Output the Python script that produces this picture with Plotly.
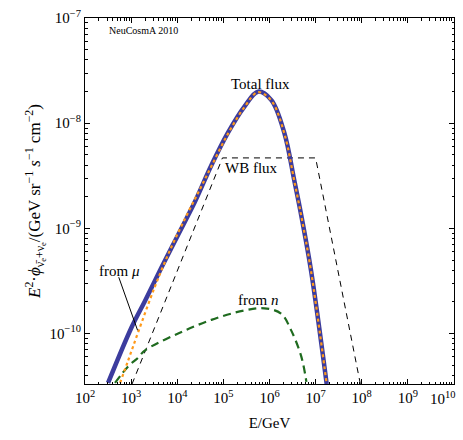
import plotly.graph_objects as go

# ---- data: log10(E/GeV), log10(E^2 phi) ----
total_logE = [2.50, 3.01, 3.30, 3.66, 4.02, 4.38, 4.74, 5.10, 5.46, 5.75, 6.04, 6.32, 6.54, 6.69, 6.90, 7.24]
total_logF = [-10.47, -9.94, -9.69, -9.37, -9.06, -8.75, -8.40, -8.09, -7.84, -7.70, -7.78, -8.09, -8.55, -8.88, -9.40, -10.48]

mu_logE = [2.76, 2.94, 3.15, 3.51, 3.87, 4.20, 4.50, 4.74, 5.10, 5.46, 5.75, 6.04, 6.32, 6.54, 6.69, 6.90, 7.24]
mu_logF = [-10.47, -10.25, -9.99, -9.56, -9.18, -8.88, -8.62, -8.41, -8.10, -7.845, -7.705, -7.785, -8.095, -8.555, -8.885, -9.405, -10.48]

n_logE = [2.65, 2.94, 3.15, 3.30, 4.02, 4.74, 5.46, 5.89, 6.25, 6.47, 6.69, 6.80]
n_logF = [-10.47, -10.31, -10.23, -10.16, -10.00, -9.87, -9.78, -9.76, -9.81, -9.97, -10.22, -10.46]

wb_logE = [3.02, 4.98, 7.00, 7.97]
wb_logF = [-10.48, -8.33, -8.33, -10.48]

xtick_exp = [2, 3, 4, 5, 6, 7, 8, 9, 10]
ytick_exp = [-10, -9, -8, -7]

def pw(v):
    return [10 ** a for a in v]

FONT = "Liberation Serif"

fig = go.Figure()
fig.add_trace(go.Scatter(x=pw(wb_logE), y=pw(wb_logF), mode="lines",
                         line=dict(color="black", width=1, dash="6px,5px")))
fig.add_trace(go.Scatter(x=pw(n_logE), y=pw(n_logF), mode="lines", line_shape="spline",
                         line=dict(color="#1f6b1f", width=2.2, dash="8px,5px")))
fig.add_trace(go.Scatter(x=pw(total_logE), y=pw(total_logF), mode="lines", line_shape="spline",
                         line=dict(color="#3c3c9e", width=4.5)))
fig.add_trace(go.Scatter(x=pw(mu_logE), y=pw(mu_logF), mode="lines", line_shape="spline",
                         line=dict(color="#ff9a1a", width=2.2, dash="3px,3px")))

xminor = [m * 10 ** e for e in range(2, 10) for m in range(2, 10)]
yminor = [m * 10 ** e for e in range(-11, -7) for m in range(2, 10)]

xticktext = ["10<sup>%d</sup>" % e for e in xtick_exp]
last_label = xticktext[-1]
xticktext[-1] = ""

fig.update_xaxes(type="log", range=[1.9995, 10.0005], showgrid=False, zeroline=False,
                 showline=True, linecolor="black", linewidth=1, mirror="allticks",
                 ticks="inside", ticklen=5, tickcolor="black",
                 tickvals=[10 ** e for e in xtick_exp],
                 ticktext=xticktext,
                 tickfont=dict(family=FONT, size=15, color="black"),
                 minor=dict(ticks="inside", ticklen=2.5, tickcolor="black", tickvals=xminor, showgrid=False),
                 title=dict(text="E/GeV", font=dict(family=FONT, size=15, color="black"), standoff=12))
fig.update_yaxes(type="log", range=[-10.48, -6.9995], showgrid=False, zeroline=False,
                 showline=True, linecolor="black", linewidth=1, mirror="allticks",
                 ticks="inside", ticklen=5, tickcolor="black",
                 tickvals=[10 ** e for e in ytick_exp],
                 ticktext=["10<sup>−%d</sup>" % (-e) for e in ytick_exp],
                 tickfont=dict(family=FONT, size=15, color="black"),
                 minor=dict(ticks="inside", ticklen=2.5, tickcolor="black", tickvals=yminor, showgrid=False),
                 title=dict(text="<i>E</i><sup>2</sup>·<i>ϕ</i><sub>ν̄<sub>e</sub>+ν<sub>e</sub></sub>/(GeV sr<sup>−1</sup> <i>s</i><sup>−1</sup> cm<sup>−2</sup>)",
                            font=dict(family=FONT, size=17, color="black"), standoff=4))

# last x tick label, shifted left so it stays inside the page
fig.add_annotation(x=xtick_exp[-1], y=0, xref="x", yref="paper", xanchor="right", yanchor="top",
                   xshift=4, yshift=-3, text=last_label, showarrow=False,
                   font=dict(family=FONT, size=15, color="black"))

def lab(text, xe, yf, size=15):
    fig.add_annotation(x=xe, y=yf, xref="x", yref="y", text=text, showarrow=False,
                       font=dict(family=FONT, size=size, color="black"))

lab("Total flux", 5.8, -7.63)
lab("WB flux", 5.62, -8.43)
lab("from <i>μ</i>", 2.74, -9.41)
lab("from <i>n</i>", 5.75, -9.68)
fig.add_annotation(x=3.14, y=-9.97, ax=2.72, ay=-9.45, xref="x", yref="y", axref="x", ayref="y",
                   text="", showarrow=True, arrowhead=0, arrowwidth=1, arrowcolor="black", standoff=0)
fig.add_annotation(x=0.06, y=0.965, xref="paper", yref="paper", xanchor="left", yanchor="middle",
                   text="NeuCosmA 2010", showarrow=False, font=dict(family=FONT, size=10, color="black"))

fig.update_layout(width=463, height=440, margin=dict(l=85, r=8, t=14, b=56),
                  paper_bgcolor="white", plot_bgcolor="white", showlegend=False)

fig.write_html("out.html")
